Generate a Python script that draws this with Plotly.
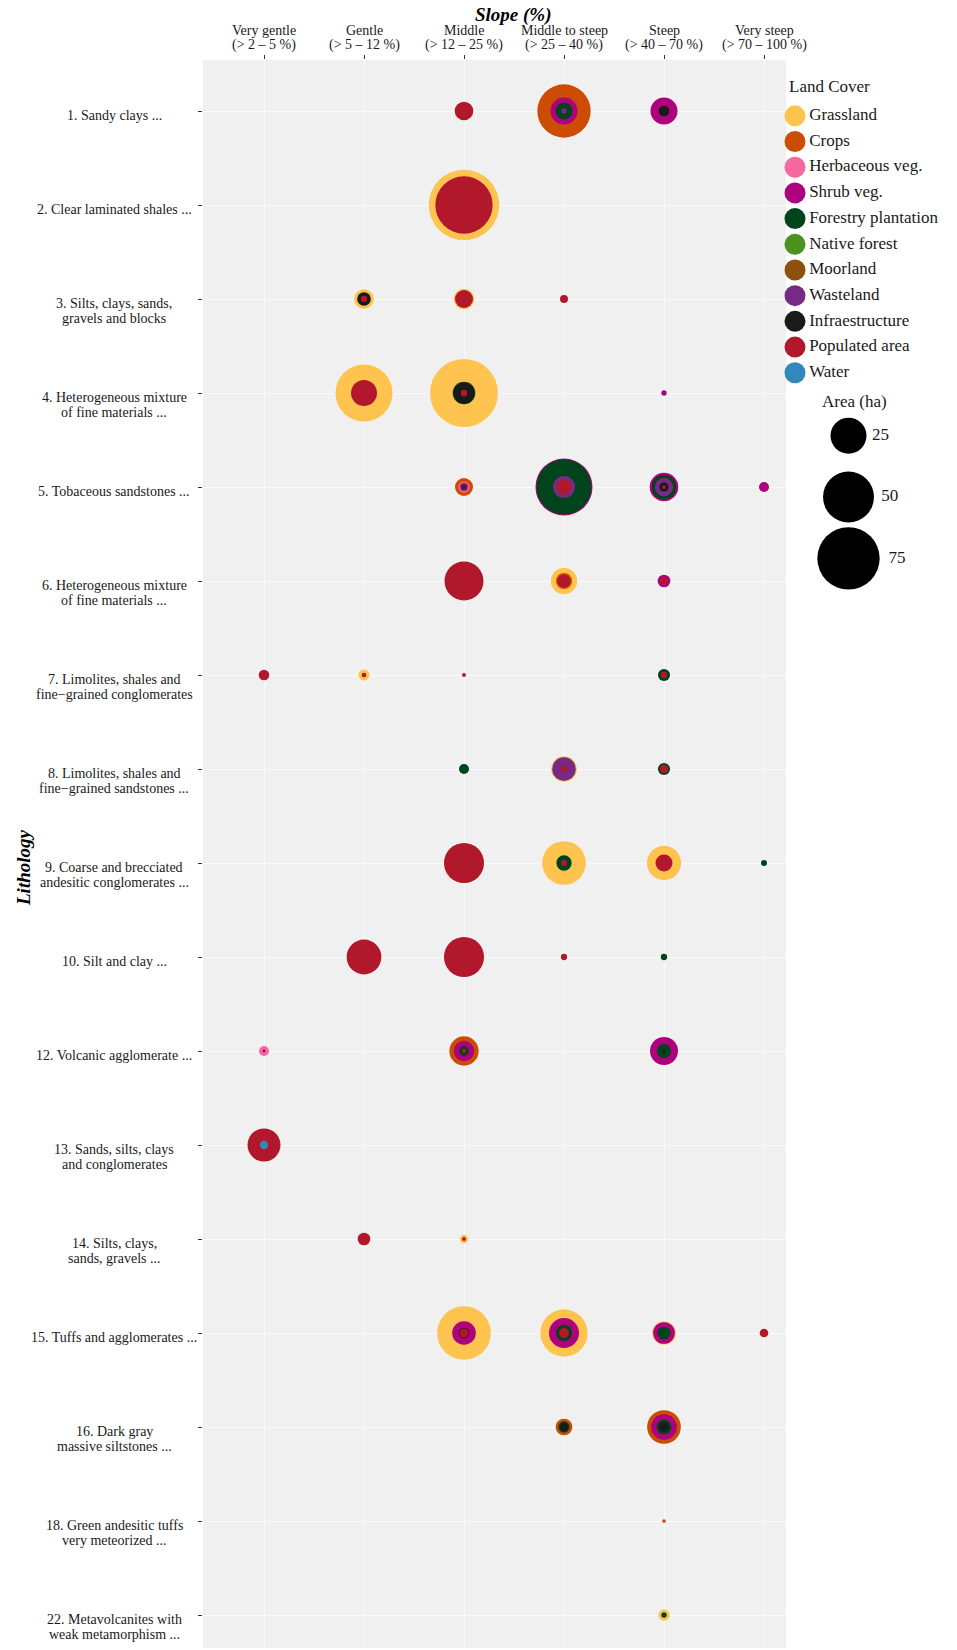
import plotly.graph_objects as go

W, H = 957, 1650

# ---------------- data ----------------
slope_classes = ["Very gentle", "Gentle", "Middle", "Middle to steep", "Steep", "Very steep"]
slope_ranges = ["(> 2 – 5 %)", "(> 5 – 12 %)", "(> 12 – 25 %)", "(> 25 – 40 %)",
                "(> 40 – 70 %)", "(> 70 – 100 %)"]

lith_ids = ["1", "2", "3", "4", "5", "6", "7", "8", "9", "10", "12", "13", "14", "15", "16", "18", "22"]
lith_labels = [
    "1. Sandy clays ...",
    "2. Clear laminated shales ...",
    "3. Silts, clays, sands,\ngravels and blocks",
    "4. Heterogeneous mixture\nof fine materials ...",
    "5. Tobaceous sandstones ...",
    "6. Heterogeneous mixture\nof fine materials ...",
    "7. Limolites, shales and\nfine−grained conglomerates",
    "8. Limolites, shales and\nfine−grained sandstones ...",
    "9. Coarse and brecciated\nandesitic conglomerates ...",
    "10. Silt and clay ...",
    "12. Volcanic agglomerate ...",
    "13. Sands, silts, clays\nand conglomerates",
    "14. Silts, clays,\nsands, gravels ...",
    "15. Tuffs and agglomerates ...",
    "16. Dark gray\nmassive siltstones ...",
    "18. Green andesitic tuffs\nvery meteorized ...",
    "22. Metavolcanites with\nweak metamorphism ...",
]

cover_classes = ["Grassland", "Crops", "Herbaceous veg.", "Shrub veg.", "Forestry plantation",
                 "Native forest", "Moorland", "Wasteland", "Infraestructure", "Populated area", "Water"]
cover_colors = ["#FEC44F", "#CC4C02", "#F768A1", "#AE017E", "#00441B",
                "#4D9221", "#8C510A", "#762A83", "#1A1A1A", "#B2182B", "#3288BD"]

cell_lith = [
    "1", "1", "1", "1", "1", "1", "1",
    "2", "2",
    "3", "3", "3", "3", "3", "3",
    "4", "4", "4", "4", "4", "4", "4",
    "5", "5", "5", "5", "5", "5", "5", "5", "5", "5", "5", "5", "5", "5",
    "6", "6", "6", "6", "6", "6",
    "7", "7", "7", "7", "7", "7",
    "8", "8", "8", "8", "8", "8",
    "9", "9", "9", "9", "9", "9", "9",
    "10", "10", "10", "10",
    "12", "12", "12", "12", "12", "12", "12", "12", "12",
    "13", "13",
    "14", "14", "14",
    "15", "15", "15", "15", "15", "15", "15", "15", "15", "15", "15", "15",
    "16", "16", "16", "16", "16", "16", "16",
    "18",
    "22", "22",
]
cell_slope = [
    "Middle", "Middle to steep", "Middle to steep", "Middle to steep", "Middle to steep", "Steep", "Steep",
    "Middle", "Middle",
    "Gentle", "Gentle", "Gentle", "Middle", "Middle", "Middle to steep",
    "Gentle", "Gentle", "Middle", "Middle", "Middle", "Middle", "Steep",
    "Middle", "Middle", "Middle", "Middle", "Middle to steep", "Middle to steep", "Middle to steep",
    "Middle to steep", "Steep", "Steep", "Steep", "Steep", "Steep", "Very steep",
    "Middle", "Middle to steep", "Middle to steep", "Middle to steep", "Steep", "Steep",
    "Very gentle", "Gentle", "Gentle", "Middle", "Steep", "Steep",
    "Middle", "Middle to steep", "Middle to steep", "Middle to steep", "Steep", "Steep",
    "Middle", "Middle to steep", "Middle to steep", "Middle to steep", "Steep", "Steep", "Very steep",
    "Gentle", "Middle", "Middle to steep", "Steep",
    "Very gentle", "Very gentle", "Middle", "Middle", "Middle", "Middle", "Steep", "Steep", "Steep",
    "Very gentle", "Very gentle",
    "Gentle", "Middle", "Middle",
    "Middle", "Middle", "Middle", "Middle", "Middle to steep", "Middle to steep", "Middle to steep",
    "Middle to steep", "Steep", "Steep", "Steep", "Very steep",
    "Middle to steep", "Middle to steep", "Middle to steep", "Steep", "Steep", "Steep", "Steep",
    "Steep",
    "Steep", "Steep",
]
cell_cover = [
    "Populated area", "Crops", "Shrub veg.", "Forestry plantation", "Wasteland", "Shrub veg.", "Infraestructure",
    "Grassland", "Populated area",
    "Grassland", "Infraestructure", "Populated area", "Grassland", "Populated area", "Populated area",
    "Grassland", "Populated area", "Grassland", "Forestry plantation", "Infraestructure", "Populated area", "Shrub veg.",
    "Crops", "Herbaceous veg.", "Shrub veg.", "Forestry plantation", "Shrub veg.", "Forestry plantation", "Wasteland",
    "Populated area", "Shrub veg.", "Forestry plantation", "Wasteland", "Infraestructure", "Populated area", "Shrub veg.",
    "Populated area", "Grassland", "Crops", "Populated area", "Shrub veg.", "Populated area",
    "Populated area", "Grassland", "Populated area", "Populated area", "Forestry plantation", "Populated area",
    "Forestry plantation", "Grassland", "Wasteland", "Populated area", "Forestry plantation", "Populated area",
    "Populated area", "Grassland", "Forestry plantation", "Populated area", "Grassland", "Populated area", "Forestry plantation",
    "Populated area", "Populated area", "Populated area", "Forestry plantation",
    "Herbaceous veg.", "Shrub veg.", "Crops", "Shrub veg.", "Forestry plantation", "Populated area",
    "Shrub veg.", "Forestry plantation", "Infraestructure",
    "Populated area", "Water",
    "Populated area", "Grassland", "Populated area",
    "Grassland", "Shrub veg.", "Infraestructure", "Populated area", "Grassland", "Shrub veg.", "Forestry plantation",
    "Populated area", "Grassland", "Shrub veg.", "Forestry plantation", "Populated area",
    "Crops", "Forestry plantation", "Infraestructure", "Crops", "Shrub veg.", "Forestry plantation", "Infraestructure",
    "Crops",
    "Grassland", "Forestry plantation",
]
cell_area = [
    6.7, 54.8, 14.1, 5.4, 0.55, 14.1, 2.2,
    96.0, 63.4,
    7.5, 3.6, 0.77, 8.2, 6.25, 1.23,
    62.7, 13.0, 89.2, 9.9, 8.5, 0.86, 0.55,
    6.25, 2.4, 1.2, 0.4, 62.7, 58.4, 9.3, 4.2, 15.8, 11.7, 6.5, 1.56, 0.26, 1.93,
    29.3, 13.4, 5.0, 3.3, 3.1, 1.05,
    2.2, 2.35, 0.41, 0.3, 2.85, 0.8,
    1.93, 12.7, 10.7, 0.8, 2.85, 1.4,
    30.9, 36.8, 4.5, 0.7, 22.7, 5.6, 0.7,
    23.3, 30.9, 0.77, 0.77,
    1.93, 0.17, 16.6, 8.0, 1.67, 0.35, 15.1, 3.8, 0.2,
    21.0, 1.33,
    3.1, 1.36, 0.3,
    55.6, 10.8, 2.1, 1.56, 43.2, 17.4, 4.9, 1.93, 10.8, 9.1, 3.1, 1.45,
    5.4, 2.47, 1.45, 21.9, 12.7, 4.3, 1.93,
    0.26,
    2.47, 0.55,
]

size_legend_values = [25, 50, 75]

# ---------------- styling ----------------
FONT = "Liberation Serif"
SIZEREF = 2.0 / 7.2 ** 2  # diameter ~ 7.2 px * sqrt(ha)
color_of = dict(zip(cover_classes, cover_colors))
label_of = dict(zip(lith_ids, lith_labels))


def px_x(p):
    return p / W


def px_y(p):
    return 1 - p / H


# draw largest first so smaller rings sit on top
order = sorted(range(len(cell_area)), key=lambda i: -cell_area[i])

fig = go.Figure()
fig.add_trace(go.Scatter(
    x=[cell_slope[i] for i in order],
    y=[label_of[cell_lith[i]] for i in order],
    mode="markers",
    marker=dict(size=[cell_area[i] for i in order], sizemode="area", sizeref=SIZEREF,
                color=[color_of[cell_cover[i]] for i in order], line=dict(width=0), opacity=1),
    customdata=[cell_cover[i] for i in order],
    hovertemplate="%{x}<br>%{customdata}: %{marker.size} ha<extra></extra>",
    showlegend=False, xaxis="x", yaxis="y", cliponaxis=False,
))

# colour legend (drawn on its own hidden axes)
fig.add_trace(go.Scatter(
    x=["Land Cover"] * len(cover_classes), y=cover_classes,
    mode="markers+text", text=cover_classes, textposition="middle right",
    textfont=dict(family=FONT, size=17, color="#1a1a1a"),
    marker=dict(size=21, color=cover_colors, line=dict(width=0), opacity=1),
    showlegend=False, hoverinfo="skip", xaxis="x3", yaxis="y3", cliponaxis=False,
))

# size legend
size_labels = [str(v) for v in size_legend_values]
fig.add_trace(go.Scatter(
    x=["Area (ha)"] * len(size_legend_values), y=size_labels,
    mode="markers+text", text=size_labels, textposition="middle right",
    textfont=dict(family=FONT, size=17, color="#1a1a1a"),
    marker=dict(size=size_legend_values, sizemode="area", sizeref=SIZEREF, color="black",
                line=dict(width=0), opacity=1),
    showlegend=False, hoverinfo="skip", xaxis="x2", yaxis="y2", cliponaxis=False,
))

annotations = []
# y tick labels (centred, multi-line; first line sits just below the tick)
LINE_H = 14.5
for lid in lith_ids:
    lab = label_of[lid]
    for k, line in enumerate(lab.split("\n")):
        annotations.append(dict(
            x=px_x(114), xref="paper", y=lab, yref="y", text=line, showarrow=False,
            xanchor="center", yanchor="middle", yshift=-(4.5 + k * LINE_H),
            font=dict(family=FONT, size=14, color="#1a1a1a")))
# x tick labels (two lines)
for sc, sr in zip(slope_classes, slope_ranges):
    annotations.append(dict(x=sc, xref="x", y=px_y(30), yref="paper", text=sc, showarrow=False,
                            xanchor="center", yanchor="middle", font=dict(family=FONT, size=14, color="#1a1a1a")))
    annotations.append(dict(x=sc, xref="x", y=px_y(44.5), yref="paper", text=sr, showarrow=False,
                            xanchor="center", yanchor="middle", font=dict(family=FONT, size=14, color="#1a1a1a")))
# axis titles and legend titles
annotations += [
    dict(x=px_x(513), y=px_y(15), xref="paper", yref="paper", text="<b><i>Slope (%)</i></b>",
         showarrow=False, xanchor="center", yanchor="middle", font=dict(family=FONT, size=19, color="black")),
    dict(x=px_x(24), y=px_y(868), xref="paper", yref="paper", text="<b><i>Lithology</i></b>", textangle=-90,
         showarrow=False, xanchor="center", yanchor="middle", font=dict(family=FONT, size=19, color="black")),
    dict(x=px_x(787), y=px_y(86), xref="paper", yref="paper", text="Land Cover",
         showarrow=False, xanchor="left", yanchor="middle", font=dict(family=FONT, size=17, color="#1a1a1a")),
    dict(x=px_x(820), y=px_y(401), xref="paper", yref="paper", text="Area (ha)",
         showarrow=False, xanchor="left", yanchor="middle", font=dict(family=FONT, size=17, color="#1a1a1a")),
]

row_px = 94.0
first_row_px = 111.0
panel_top, panel_bot = 60.0, 1648.0
y_top = -(first_row_px - panel_top) / row_px
y_bot = (panel_bot - first_row_px) / row_px

fig.update_layout(
    width=W, height=H,
    margin=dict(l=0, r=0, t=0, b=0, pad=0),
    paper_bgcolor="white", plot_bgcolor="rgba(0,0,0,0)",
    font=dict(family=FONT, size=14, color="#1a1a1a"),
    showlegend=False,
    shapes=[dict(type="rect", xref="x domain", yref="y domain", x0=0, x1=1, y0=0, y1=1,
                 fillcolor="#F0F0F0", line=dict(width=0), layer="below")],
    xaxis=dict(domain=[px_x(203), px_x(786)], type="category", categoryarray=slope_classes,
               categoryorder="array", range=[-0.61, 5.22], side="top", showticklabels=False,
               ticks="outside", ticklen=4, tickwidth=1, tickcolor="#333333",
               showgrid=True, gridcolor="#FAFAFA", gridwidth=1, zeroline=False, showline=False,
               fixedrange=True, anchor="y"),
    yaxis=dict(domain=[px_y(panel_bot), px_y(panel_top)], type="category", categoryarray=lith_labels,
               categoryorder="array", range=[y_bot, y_top], showticklabels=False,
               ticks="outside", ticklen=4, tickwidth=1, tickcolor="#333333",
               showgrid=True, gridcolor="#FAFAFA", gridwidth=1, zeroline=False, showline=False,
               fixedrange=True, anchor="x"),
    xaxis2=dict(domain=[px_x(820), px_x(877)], type="category", range=[-0.5, 0.5], visible=False,
                anchor="y2", fixedrange=True),
    yaxis2=dict(domain=[px_y(589), px_y(405)], type="category",
                categoryarray=size_labels, categoryorder="array",
                range=[2.5, -0.5], visible=False, anchor="x2", fixedrange=True),
    xaxis3=dict(domain=[px_x(785), px_x(805)], type="category", range=[-0.5, 0.5], visible=False,
                anchor="y3", fixedrange=True),
    yaxis3=dict(domain=[px_y(385.6), px_y(103)], type="category", categoryarray=cover_classes,
                categoryorder="array", range=[len(cover_classes) - 0.5, -0.5], visible=False,
                anchor="x3", fixedrange=True),
    annotations=annotations,
)

fig.write_html("out.html")
